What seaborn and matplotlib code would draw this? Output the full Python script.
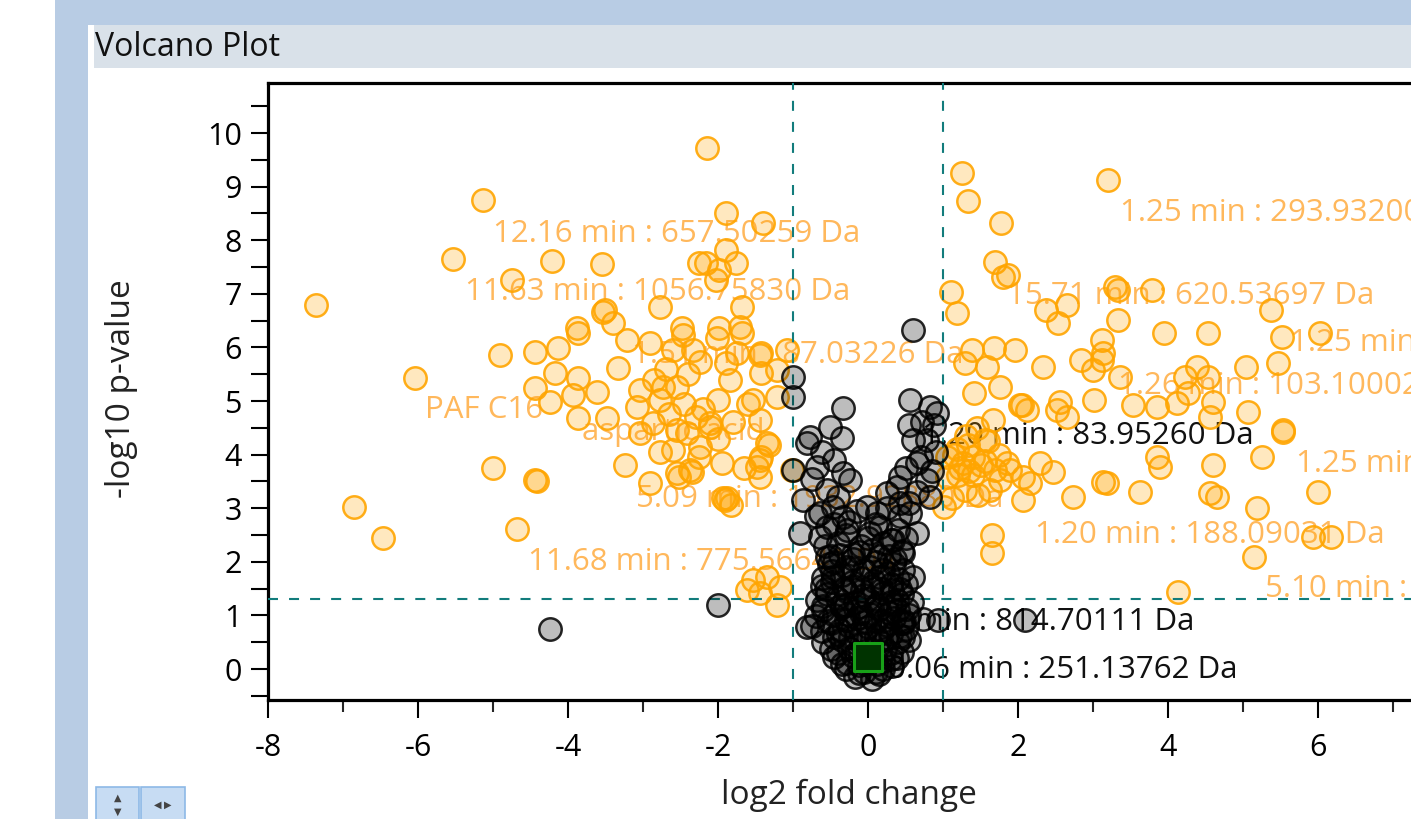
import pandas as pd
import matplotlib.pyplot as plt
import seaborn as sns
from matplotlib.patches import Rectangle
from matplotlib.ticker import MultipleLocator

sns.set_style("white")
plt.rcParams['font.family'] = ['Open Sans', 'DejaVu Sans']

# significant features (orange): log2 fold change, -log10 p-value
sig_fc = [-7.36, -6.85, -6.47, -6.04, -5.53, -5.13, -5.00, -4.91, -4.75, -4.68,
          -4.44, -4.41, -4.44, -4.44, -4.24, -4.21, -4.17, -4.13, -3.93, -3.87,
          -3.87, -3.87, -3.88, -3.61, -3.55, -3.53, -3.51, -3.48, -3.40, -3.33,
          -3.24, -3.21, -3.08, -3.04, -3.04, -2.91, -2.91, -2.87, -2.77, -2.77,
          -2.77, -2.73, -2.60, -2.60, -2.55, -2.55, -2.52, -2.48, -2.47, -2.41,
          -2.37, -2.35, -2.33, -2.25, -2.24, -2.24, -2.16, -2.15, -2.11, -2.11,
          -2.03, -2.01, -2.00, -1.99, -1.99, -1.93, -1.91, -1.89, -1.89, -1.88,
          -1.84, -1.83, -1.76, -1.71, -1.68, -1.68, -1.61, -1.53, -1.53, -1.48,
          -1.44, -1.44, -1.44, -1.44, -1.44, -1.43, -1.43, -1.43, -1.40, -1.35,
          -1.35, -1.32, -1.21, -1.21, -1.21, -1.17, -1.08, -1.02,
          -2.65, -2.45, -2.30, -2.55, -2.20, -2.00, -1.80, -1.95, -2.25, -1.65,
          -1.60, -2.40, -2.70, -2.85, -1.90, -1.75,
          1.25, 1.33, 1.77, 1.69, 1.87, 3.20, 1.11, 1.19, 2.37, 2.65,
          2.53, 3.33, 3.29, 3.33, 3.79, 5.37, 3.12, 3.13, 3.95, 4.53,
          5.52, 6.03, 5.04, 5.47, 4.39, 4.23, 4.53, 2.33, 2.84, 3.12,
          3.36, 1.39, 1.68, 1.96, 1.29, 1.59, 1.41, 1.76, 2.05, 2.56,
          3.01, 1.80, 3.00, 2.03, 2.12, 2.52, 2.65, 3.53, 3.85, 4.12,
          4.27, 4.60, 4.56, 5.07, 5.53, 1.67, 1.15, 1.27, 1.40, 1.56,
          1.69, 1.20, 1.29, 1.47, 1.12, 1.63, 1.76, 1.56, 1.40, 1.05,
          1.33, 1.89, 2.07, 2.29, 2.47, 2.16, 2.07, 2.73, 3.13, 3.19,
          3.63, 3.85, 3.89, 4.60, 5.25, 4.56, 4.65, 5.19, 6.00, 5.53,
          1.65, 1.65, 5.15, 5.93, 6.17, 4.13, 1.01,
          1.05, 1.18, 1.22, 1.35, 1.50, 1.30, 1.45, 1.60, 1.75, 1.85]
sig_logp = [6.79, 3.02, 2.44, 5.43, 7.65, 8.75, 3.75, 5.86, 7.26, 2.61,
            3.53, 3.50, 5.91, 5.24, 4.98, 7.61, 5.52, 5.99, 5.11, 6.27,
            5.43, 4.68, 6.36, 5.17, 7.56, 6.66, 6.70, 4.68, 6.46, 5.62,
            3.81, 6.14, 4.89, 5.21, 4.40, 6.08, 3.47, 4.59, 6.75, 5.02,
            4.05, 5.26, 5.95, 4.09, 5.26, 3.66, 3.58, 6.36, 6.23, 4.40,
            3.71, 3.68, 5.95, 7.57, 5.73, 4.14, 7.57, 9.72, 4.59, 4.51,
            7.26, 6.18, 5.02, 7.44, 6.36, 3.19, 3.15, 8.51, 7.82, 3.19,
            5.39, 3.06, 7.57, 6.38, 6.27, 6.75, 1.47, 5.02, 1.66, 3.77,
            5.86, 4.65, 3.90, 3.58, 1.42, 5.90, 5.52, 3.96, 8.32, 4.22,
            1.72, 4.18, 5.07, 5.58, 1.19, 1.53, 5.95, 3.72,
            4.75, 4.95, 4.70, 4.45, 4.85, 4.30, 4.60, 3.85, 3.95, 3.75,
            4.95, 5.50, 5.60, 5.40, 5.70, 5.90,
            9.25, 8.73, 8.32, 7.59, 7.35, 9.12, 7.03, 6.64, 6.70, 6.79,
            6.46, 7.07, 7.13, 6.51, 7.07, 6.70, 6.14, 5.90, 6.27, 6.27,
            6.19, 6.27, 5.63, 5.71, 5.63, 5.45, 5.45, 5.63, 5.76, 5.76,
            5.45, 5.95, 5.99, 5.95, 5.71, 5.63, 5.15, 5.26, 4.93, 4.98,
            5.02, 7.31, 5.58, 4.93, 4.83, 4.83, 4.70, 4.93, 4.89, 4.96,
            5.15, 4.98, 4.70, 4.79, 4.46, 4.65, 4.00, 3.84, 3.96, 3.88,
            3.71, 3.62, 3.34, 3.25, 3.19, 3.34, 3.53, 4.27, 3.62, 3.58,
            4.18, 3.71, 3.58, 3.84, 3.68, 3.47, 3.15, 3.21, 3.49, 3.47,
            3.30, 3.96, 3.77, 3.81, 3.96, 3.28, 3.21, 3.00, 3.30, 4.42,
            2.50, 2.16, 2.09, 2.46, 2.46, 1.44, 3.02,
            3.95, 4.10, 3.75, 3.70, 3.80, 4.35, 4.50, 4.25, 4.00, 3.85]

# non-significant features (gray)
ns_fc = [-4.24, -2.00, 0.60, -1.00, -1.00, -0.33, -0.51, -0.35, -0.77, -0.81,
         -0.68, -0.33, -1.00, 0.56, 0.83, 0.92, 0.60, 0.79, 0.65, 0.43,
         0.79, -0.87, -0.55, -0.24, 0.25, -0.91, -0.55, -0.28, 0.16, 0.56,
         0.65, 0.33, -0.47, -0.01, -0.47, 0.60, -0.81, 0.47, 0.73, 2.09,
         0.93, 0.88, 0.90, 0.85, -0.64, -0.33, 0.12, 0.43, 0.03, -0.64,
         0.47, -0.55,
         -0.62, -0.45, -0.75, -0.40, -0.70, 0.72, 0.55, 0.70, 0.50, 0.65,
         0.38, 0.82,
         -0.45, -0.20, 0.10, 0.35, -0.60, -0.35, -0.10, 0.15, 0.40, -0.55,
         -0.30, -0.05, 0.20, 0.45, -0.60, -0.35, -0.10, 0.15, 0.40, 0.55,
         -0.75, -0.50, -0.25, 0.00, 0.25, 0.50, -0.60, -0.35, -0.10, 0.15,
         0.40, -0.45, -0.20, 0.05, 0.30, -0.30, -0.05, 0.20, -0.40, -0.10,
         0.20, 0.40, -0.25, 0.25, -0.30, 0.00, 0.30, -0.15, 0.10, 0.35,
         -0.40, -0.15, 0.10, 0.30, -0.20, 0.05, 0.30, -0.05, 0.20, -0.30,
         -0.52, -0.38, -0.12, 0.05, 0.28, 0.45, -0.62, -0.48, -0.22, 0.08,
         0.32, 0.50, -0.68, -0.42, -0.18, 0.12, 0.38, 0.58, -0.70, -0.45,
         -0.28, 0.02, 0.28, 0.48, -0.62, -0.38, -0.05, 0.18, 0.42, 0.55,
         -0.50, -0.25, 0.00, 0.22, 0.45, -0.35, -0.12, 0.12, 0.32, -0.18,
         0.05, 0.15, -0.58, -0.30, 0.00, 0.30, 0.50, -0.45, 0.10, 0.42,
         -0.15, 0.55,
         -0.48, -0.22, 0.02, 0.26, 0.46, -0.56, -0.32, -0.08, 0.18, 0.42,
         -0.60, -0.36, -0.14, 0.10, 0.34, 0.52, -0.54, -0.30, -0.06, 0.20,
         0.44, -0.46, -0.24, 0.00, 0.24, 0.46, -0.40, -0.16, 0.08, 0.30,
         -0.28, -0.04, 0.20, 0.38, -0.12, 0.10, -0.50, -0.20, 0.14, 0.36]
ns_logp = [0.75, 1.19, 6.32, 5.45, 5.07, 4.87, 4.51, 4.31, 4.33, 4.22,
           3.77, 3.66, 3.71, 5.02, 4.89, 4.78, 4.27, 4.27, 3.84, 3.58,
           3.53, 3.15, 3.34, 3.53, 3.28, 2.54, 2.65, 2.59, 2.65, 2.91,
           2.54, 2.41, 3.02, 3.02, 1.72, 1.72, 0.78, 0.86, 0.93, 0.91,
           0.91, 4.55, 4.05, 3.70, 2.91, 2.84, 2.91, 3.10, 2.54, 2.46,
           2.16, 2.09,
           4.05, 3.90, 3.55, 3.20, 2.85, 4.60, 4.55, 3.95, 3.75, 3.30,
           3.40, 3.20,
           2.00, 2.05, 2.00, 1.95, 1.70, 1.75, 1.70, 1.72, 1.68, 1.40,
           1.45, 1.38, 1.42, 1.40, 1.10, 1.15, 1.05, 1.12, 1.10, 1.00,
           0.80, 0.85, 0.80, 0.78, 0.82, 0.75, 0.50, 0.55, 0.48, 0.52,
           0.50, 0.22, 0.25, 0.20, 0.18, 0.00, -0.05, 0.00, 2.35, 2.30,
           2.35, 2.60, 2.75, 3.00, 1.20, 1.30, 1.25, 0.95, 0.90, 0.95,
           0.65, 0.65, 0.62, 0.65, 1.55, 1.55, 1.58, 1.85, 1.85, 1.90,
           1.95, 2.12, 2.18, 2.22, 2.10, 2.20, 1.55, 1.62, 1.62, 1.65,
           1.48, 1.58, 1.28, 1.32, 1.25, 1.22, 1.28, 1.25, 0.98, 1.00,
           1.02, 1.02, 1.05, 0.90, 0.70, 0.72, 0.68, 0.72, 0.62, 0.55,
           0.38, 0.40, 0.35, 0.38, 0.32, 0.10, 0.08, 0.10, 0.05, -0.15,
           -0.18, -0.10, 2.30, 2.50, 2.45, 2.40, 2.45, 2.70, 2.70, 2.85,
           2.95, 3.10,
           1.82, 1.88, 1.90, 1.80, 1.85, 1.50, 1.52, 1.48, 1.50, 1.50,
           1.18, 1.20, 1.15, 1.18, 1.20, 1.12, 0.90, 0.92, 0.88, 0.90,
           0.85, 0.60, 0.60, 0.58, 0.58, 0.60, 0.30, 0.30, 0.28, 0.30,
           0.12, 0.10, 0.15, 0.20, -0.08, -0.05, 2.10, 2.15, 2.10, 2.05]

# selected feature
sel_fc = [0.0]
sel_logp = [0.22]

# feature annotations
label_text = ["12.16 min : 657.50259 Da", "11.63 min : 1056.75830 Da",
              "1.51 min : 87.03226 Da", "PAF C16", "aspartic acid",
              "5.09 min : 1932.92880 Da", "11.68 min : 775.56641 Da",
              "1.25 min : 293.93200 Da", "15.71 min : 620.53697 Da",
              "1.25 min : 132.07720 Da", "1.26 min : 103.10002 Da",
              "1.25 min : 146.06010 Da", "1.20 min : 188.09031 Da",
              "5.10 min : 322.11460 Da",
              "1.20 min : 83.95260 Da", "1.11 min : 814.70111 Da",
              "0.06 min : 251.13762 Da"]
label_fc = [-5.00, -5.37, -3.15, -5.91, -3.81, -3.09, -4.53, 3.36, 1.85, 5.63,
            3.33, 5.71, 2.23, 5.29, 0.72, -0.31, 0.27]
label_logp = [8.12, 7.03, 5.86, 4.83, 4.42, 3.17, 2.00, 8.51, 6.96, 6.08,
              5.28, 3.82, 2.50, 1.49, 4.35, 0.88, -0.02]
label_dark = [False] * 14 + [True] * 3

fc_cut = 1.0
p_cut = 1.301

sig = pd.DataFrame({'fc': sig_fc, 'logp': sig_logp})
ns = pd.DataFrame({'fc': ns_fc, 'logp': ns_logp})

W, H = 1411, 819
fig = plt.figure(figsize=(W / 100, H / 100), dpi=100)


def fig_rect(x0, y0, x1, y1, face, edge='none', lw=0):
    fig.add_artist(Rectangle((x0 / W, 1 - y1 / H), (x1 - x0) / W, (y1 - y0) / H,
                             transform=fig.transFigure, facecolor=face,
                             edgecolor=edge, linewidth=lw, zorder=0))


# window frame
fig_rect(55, 0, W, 25, '#B8CCE4')
fig_rect(55, 0, 88, H, '#B8CCE4')
fig_rect(94, 25, W, 68, '#D9E1E9')
fig.text(95 / W, 1 - 47 / H, "Volcano Plot", fontsize=23, color='#111111',
         ha='left', va='center')

# small view buttons
fig_rect(96, 787, 139, 822, '#C7DCF3', '#8DB9E6', 1.2)
fig_rect(141, 787, 185, 822, '#C7DCF3', '#8DB9E6', 1.2)
fig.text(118 / W, 1 - 798 / H, "\u25B2", fontsize=7, color='#444444', ha='center', va='center',
         family='DejaVu Sans')
fig.text(118 / W, 1 - 812 / H, "\u25BC", fontsize=7, color='#444444', ha='center', va='center',
         family='DejaVu Sans')
fig.text(158 / W, 1 - 805 / H, "\u25C0", fontsize=7, color='#444444', ha='center', va='center',
         family='DejaVu Sans')
fig.text(168 / W, 1 - 805 / H, "\u25B6", fontsize=7, color='#444444', ha='center', va='center',
         family='DejaVu Sans')

ax_left, ax_right, ax_top, ax_bottom = 268, 1425, 83, 700
ax = fig.add_axes([ax_left / W, 1 - ax_bottom / H, (ax_right - ax_left) / W,
                   (ax_bottom - ax_top) / H])
ax.set_facecolor('white')

sns.scatterplot(data=sig, x='fc', y='logp', ax=ax, s=260, color=(1, 0.647, 0, 0.25),
                edgecolor=(1, 0.647, 0, 0.9), linewidth=1.8, legend=False, zorder=3)

dash = (0, (4.8, 5.3))
ax.axvline(-fc_cut, color='#127C7C', lw=1.5, linestyle=dash, zorder=4)
ax.axvline(fc_cut, color='#127C7C', lw=1.5, linestyle=dash, zorder=4)
ax.axhline(p_cut, color='#127C7C', lw=1.5, linestyle=dash, zorder=4)

# black at 25 % opacity reads as light gray alone and piles up to black
sns.scatterplot(data=ns, x='fc', y='logp', ax=ax, s=260, color=(0, 0, 0, 0.26),
                edgecolor=(0.0, 0.0, 0.0, 0.85), linewidth=1.8, legend=False, zorder=5)
ax.scatter(sel_fc, sel_logp, marker='s', s=420, facecolor='#003300',
           edgecolor='#18A018', linewidth=2.2, zorder=7)

for txt, xv, yv, dark in zip(label_text, label_fc, label_logp, label_dark):
    ax.text(xv, yv, txt, fontsize=22.5, ha='left', va='center', zorder=2,
            color='#111111' if dark else '#FFA633', alpha=1.0 if dark else 0.8)

ax.set_xlim(-8, (ax_right - 868) / 75)
ax.set_ylim(-0.578, 10.933)
ax.xaxis.set_major_locator(MultipleLocator(2))
ax.xaxis.set_minor_locator(MultipleLocator(1))
ax.yaxis.set_major_locator(MultipleLocator(1))
ax.yaxis.set_minor_locator(MultipleLocator(0.5))
ax.tick_params(axis='x', which='major', length=13, width=1.5, pad=11, labelsize=22,
               direction='out', bottom=True, colors='black')
ax.tick_params(axis='x', which='minor', length=8.5, width=1.5, direction='out', bottom=True)
ax.tick_params(axis='y', which='both', length=12, width=1.5, pad=7, labelsize=22,
               direction='out', left=True, colors='black')
ax.set_xticks(range(-8, 8, 2))
ax.set_xticklabels([str(v) for v in range(-8, 8, 2)])
for side in ['left', 'bottom', 'top']:
    ax.spines[side].set_linewidth(2.3)
    ax.spines[side].set_color('black')
ax.spines['right'].set_visible(False)
ax.set_xlabel('')
ax.set_ylabel('')

fig.text(849 / W, 1 - 795 / H, "log2 fold change", fontsize=24, color='#222222',
         ha='center', va='center')
fig.text(122 / W, 1 - 389 / H, "-log10 p-value", fontsize=24, color='#222222',
         ha='center', va='center', rotation=90)

fig.savefig('out.png', dpi=100)
